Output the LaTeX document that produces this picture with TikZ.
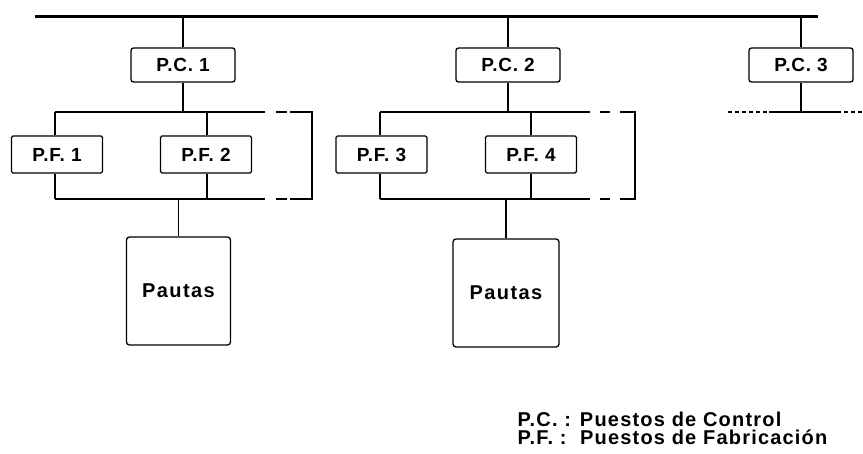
\documentclass[tikz,border=0pt]{standalone}
\usepackage{fontspec}
\newfontfamily\diafont[LetterSpace=4]{Liberation Sans}
\newfontfamily\legfont[LetterSpace=6]{Liberation Sans}
\usetikzlibrary{positioning,calc}

\begin{document}
\begin{tikzpicture}[x=1pt, y=-1pt, line width=1.3pt,
  font=\diafont\bfseries\fontsize{19}{22}\selectfont,
  pcbox/.style={draw, fill=white, rounded corners=2.5pt, minimum width=104pt, minimum height=34pt, inner sep=0pt},
  pfbox/.style={draw, fill=white, rounded corners=1.5pt, minimum width=91pt, minimum height=37pt, inner sep=0pt},
  pautabox/.style={draw, fill=white, rounded corners=3pt, minimum width=104pt, minimum height=108pt, inner sep=0pt,
    font=\diafont\bfseries\fontsize{20}{22}\selectfont\addfontfeature{LetterSpace=7}},
  legtext/.style={anchor=west, inner sep=0pt, font=\legfont\bfseries\fontsize{20}{22}\selectfont},
  gapline/.style={dash pattern=on 0pt off 11pt on 11pt off 3pt on 300pt},
  gapline2/.style={dash pattern=on 0pt off 10pt on 10pt off 10pt on 300pt},
  fineline/.style={dash pattern=on 4pt off 3pt}]
  \useasboundingbox (0,0) rectangle (863,454);

  % bus line
  \coordinate (busL) at (35,17);
  \coordinate (busR) at (818,17);
  \draw[line width=3pt] (busL) -- (busR);

  % control posts
  \node[pcbox] (pc1) at (183,65) {P.C. 1};
  \node[pcbox] (pc2) at (508,65) {P.C. 2};
  \node[pcbox] (pc3) at (801,65) {P.C. 3};
  \draw (pc1.north) -- (pc1.north |- busL);
  \draw (pc2.north) -- (pc2.north |- busL);
  \draw (pc3.north) -- (pc3.north |- busL);

  % first group of manufacturing posts
  \coordinate (t1L) at (55,112);
  \coordinate (t1R) at (265,112);
  \coordinate (t1E) at (312,112);
  \coordinate (m1E) at (312,156);
  \coordinate (b1L) at (55,199);
  \coordinate (b1R) at (265,199);
  \coordinate (b1E) at (312,199);
  \coordinate (t1P) at (207,112);
  \coordinate (b1P) at (207,199);
  \draw (t1L) -- (t1R);
  \draw (b1L) -- (b1R);
  \draw[gapline] (t1R) -- (t1E) -- (m1E);
  \draw[gapline] (b1R) -- (b1E) -- (m1E);
  \draw (pc1.south) -- (pc1.south |- t1L);
  \node[pfbox] (pf1) at (57,154.5) {P.F. 1};
  \node[pfbox] (pf2) at (206,154.5) {P.F. 2};
  \draw (t1L) -- (pf1.north -| t1L);
  \draw (pf1.south -| b1L) -- (b1L);
  \draw[line width=2.2pt] (t1P) -- (pf2.north -| t1P);
  \draw[line width=2.2pt] (pf2.south -| b1P) -- (b1P);

  % second group of manufacturing posts
  \coordinate (t2L) at (380,112);
  \coordinate (t2R) at (590,112);
  \coordinate (t2E) at (635,112);
  \coordinate (m2E) at (635,156);
  \coordinate (b2L) at (380,199);
  \coordinate (b2R) at (590,199);
  \coordinate (b2E) at (635,199);
  \draw (t2L) -- (t2R);
  \draw (b2L) -- (b2R);
  \draw[gapline2] (t2R) -- (t2E) -- (m2E);
  \draw[gapline2] (b2R) -- (b2E) -- (m2E);
  \draw (pc2.south) -- (pc2.south |- t2L);
  \node[pfbox] (pf3) at (381.5,154.5) {P.F. 3};
  \node[pfbox] (pf4) at (531,154.5) {P.F. 4};
  \draw[line width=2.2pt] (t2L) -- (pf3.north -| t2L);
  \draw[line width=2.2pt] (pf3.south -| b2L) -- (b2L);
  \draw (pf4.north) -- (pf4.north |- t2L);
  \draw (pf4.south) -- (pf4.south |- b2L);

  % third group, only sketched
  \coordinate (t3a) at (728,112);
  \coordinate (t3b) at (769,112);
  \coordinate (t3c) at (837,112);
  \coordinate (t3d) at (863,112);
  \draw (pc3.south) -- (pc3.south |- t3a);
  \draw[fineline] (t3a) -- (t3b);
  \draw (t3b) -- (t3c);
  \draw[fineline] (t3c) -- (t3d);

  % guidelines
  \node[pautabox] (pautas1) at (178.5,291) {Pautas};
  \node[pautabox, minimum width=106pt] (pautas2) at (506,293) {Pautas};
  \draw (pautas1.north) -- (pautas1.north |- b1L);
  \draw (pautas2.north) -- (pautas2.north |- b2L);

  % legend
  \node[legtext] (legpc) at (517,419) {P.C. : Puestos de Control};
  \node[legtext] (legpf) at (517,437) {P.F. :\ \ Puestos de Fabricación};
\end{tikzpicture}
\end{document}
